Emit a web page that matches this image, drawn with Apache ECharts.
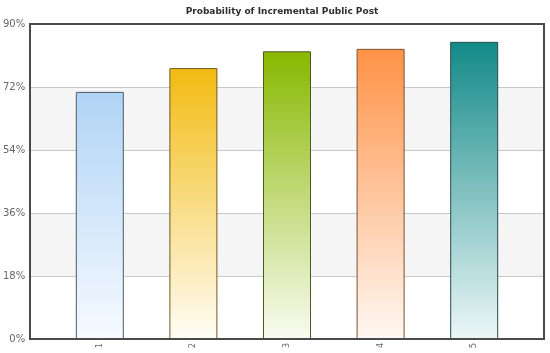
<!DOCTYPE html>
<html>
<head>
<meta charset="utf-8">
<script src="https://cdn.jsdelivr.net/npm/echarts@6/dist/echarts.min.js"></script>
<style>
html,body{margin:0;padding:0;background:#fff;}
#main{width:550px;height:353px;}
</style>
</head>
<body>
<div id="main"></div>
<script>
var categories = ['1', '2', '3', '4', '5'];
var values = [70.6, 77.4, 82.2, 82.9, 84.9];
var topColors = ['#b0d4f5', '#f2bb12', '#88b800', '#ff9246', '#138a88'];
var bottomColors = ['#f6faff', '#fffdf6', '#f9fbf1', '#fff8f3', '#ecf7f7'];
var borderColors = ['#4d5a66', '#6e5a20', '#4a5a20', '#7a5030', '#2a4a4a'];
var yTicks = [0, 18, 36, 54, 72, 90];

var chart = echarts.init(document.getElementById('main'));
var data = values.map(function (v, i) {
  return {
    value: v,
    itemStyle: {
      color: new echarts.graphic.LinearGradient(0, 0, 0, 1, [
        { offset: 0, color: topColors[i] },
        { offset: 1, color: bottomColors[i] }
      ]),
      borderColor: borderColors[i],
      borderWidth: 1
    }
  };
});

chart.setOption({
  animation: false,
  backgroundColor: '#fff',
  title: {
    text: 'Probability of Incremental Public Post',
    left: 277,
    textAlign: 'center',
    top: 2,
    textStyle: { fontFamily: 'DejaVu Sans', fontSize: 9, fontWeight: 'bold', color: '#2e2e2e' }
  },
  grid: [
    { left: 30, right: 6, top: 24, bottom: 14 },
    { left: 53, right: 29, top: 24, bottom: 14 }
  ],
  graphic: [
    { type: 'rect', z: 100, silent: true,
      shape: { x: 30, y: 24, width: 514, height: 315 },
      style: { fill: 'none', stroke: '#4a4a4a', lineWidth: 2 } }
  ],
  xAxis: [
    { type: 'value', gridIndex: 0, show: false, min: 0, max: 1 },
    {
      type: 'category', gridIndex: 1, data: categories,
      axisLine: { show: false }, axisTick: { show: false },
      axisLabel: { rotate: 90, fontFamily: 'DejaVu Sans', fontSize: 8, color: '#666', margin: 4 }
    }
  ],
  yAxis: [
    {
      type: 'value', gridIndex: 0, min: 0, max: 90, interval: 18,
      axisLine: { show: false }, axisTick: { show: false },
      axisLabel: { formatter: '{value}%', fontFamily: 'DejaVu Sans', fontSize: 10, color: '#666', margin: 5 },
      splitLine: { show: true, lineStyle: { color: '#c8c8c8', width: 1 } },
      splitArea: { show: true, areaStyle: { color: ['#ffffff', '#f5f5f5'] } }
    },
    { type: 'value', gridIndex: 1, min: 0, max: 90, show: false, splitLine: { show: false } }
  ],
  series: [
    {
      type: 'bar', xAxisIndex: 1, yAxisIndex: 1, barWidth: 48, data: data, z: 3
    }
  ]
});
</script>
</body>
</html>
